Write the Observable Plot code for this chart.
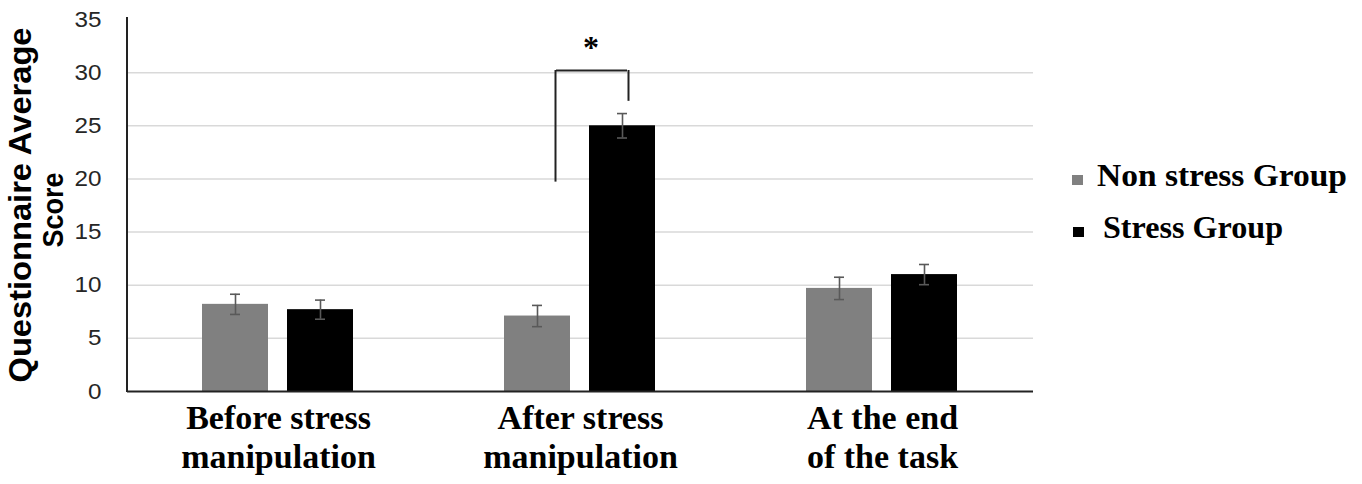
<!DOCTYPE html>
<html><head><meta charset="utf-8">
<script src="https://cdn.jsdelivr.net/npm/d3@7"></script>
<script src="https://cdn.jsdelivr.net/npm/@observablehq/plot@0.6"></script>
<style>
body{margin:0;background:#fff}
#chart{position:relative;width:1362px;height:484px}
</style>
</head><body><div id="chart"></div>
<script>
// ---- data ----
const categories = ["Before stress\nmanipulation", "After stress\nmanipulation", "At the end\nof the task"];
const groups = ["Non stress Group", "Stress Group"];
const nonStressMeans = [8.2, 7.1, 9.7];
const stressMeans = [7.7, 25.0, 11.0];
const nonStressErr = [0.95, 1.0, 1.05];
const stressErr = [0.9, 1.15, 0.95];
const groupColors = ["#808080", "#000000"];
const yTicks = [0, 5, 10, 15, 20, 25, 30, 35];
const yTitle = ["Questionnaire Average", "Score"];
// significance bracket (After stress manipulation)
const sigCategory = categories[1];
const sigLeftBottom = 19.7, sigRightBottom = 27.3, sigTop = 30.2, sigLabelY = 32.3, sigLabel = "*";

const data = [];
categories.forEach((c, i) => {
  data.push({cat: c, group: groups[0], value: nonStressMeans[i], err: nonStressErr[i]});
  data.push({cat: c, group: groups[1], value: stressMeans[i], err: stressErr[i]});
});
const sig = [{cat: sigCategory, from: groups[0], to: groups[1], yl: sigLeftBottom, yr: sigRightBottom, yt: sigTop, ly: sigLabelY, label: sigLabel}];

const errColor = "#595959";
const plot = Plot.plot({
  width: 1362, height: 484,
  marginLeft: 127, marginRight: 329, marginTop: 19, marginBottom: 93,
  style: {background: "#fff", overflow: "visible"},
  fx: {domain: categories, padding: 0, label: null},
  x: {domain: groups, paddingInner: 0.22, paddingOuter: 0.87, axis: null},
  y: {domain: [0, 35], label: null},
  color: {domain: groups, range: groupColors},
  marks: [
    Plot.gridY(yTicks.filter(t => t > 0 && t < 35), {stroke: "#d9d9d9", strokeOpacity: 1, strokeWidth: 1.5}),
    Plot.axisY(yTicks, {tickSize: 0, tickPadding: 26, fontSize: 22, fontFamily: "Liberation Sans, Arial, sans-serif", fill: "#262626", label: null}),
    Plot.axisFx({anchor: "bottom", tickSize: 0, tickPadding: 10, fontSize: 34, fontFamily: "Liberation Serif, Times New Roman, serif", fontWeight: "bold", lineHeight: 1.15, fill: "#000", label: null}),
    Plot.barY(data, {fx: "cat", x: "group", y: "value", fill: "group"}),
    Plot.ruleX(data, {fx: "cat", x: "group", y1: d => d.value - d.err, y2: d => d.value + d.err, stroke: errColor, strokeWidth: 1.6}),
    Plot.ruleY(data, {fx: "cat", x1: "group", x2: "group", y: d => d.value + d.err, insetLeft: 28, insetRight: 28, stroke: errColor, strokeWidth: 1.6}),
    Plot.ruleY(data, {fx: "cat", x1: "group", x2: "group", y: d => d.value - d.err, insetLeft: 28, insetRight: 28, stroke: errColor, strokeWidth: 1.6}),
    Plot.ruleY([0], {stroke: "#222", strokeWidth: 2}),
    // significance bracket
    Plot.ruleX(sig, {fx: "cat", x: "from", y1: "yl", y2: "yt", dx: 18, stroke: "#222", strokeWidth: 2}),
    Plot.ruleX(sig, {fx: "cat", x: "to", y1: "yr", y2: "yt", dx: 6, stroke: "#222", strokeWidth: 2}),
    Plot.ruleY(sig, {fx: "cat", x1: "from", x2: "to", y: "yt", insetLeft: 52, insetRight: 28, stroke: "#222", strokeWidth: 2}),
    Plot.text(sig, {fx: "cat", x: "to", y: "ly", text: "label", dx: -31.5, fontSize: 32, fontWeight: "bold", fontFamily: "Liberation Serif, serif", fill: "#000"})
  ]
});

const svg = d3.select(plot);
const y = plot.scale("y");
// widen y tick labels slightly (reference glyphs are horizontally stretched)
svg.selectAll('[aria-label="y-axis tick label"] text').each(function() {
  const t = this.textContent;
  d3.select(this).attr("textLength", t.length * 13.5).attr("lengthAdjust", "spacingAndGlyphs");
});
// left axis line
svg.append("line").attr("x1", 127).attr("x2", 127).attr("y1", y.apply(35) - 2).attr("y2", y.apply(0) + 1)
  .attr("stroke", "#222").attr("stroke-width", 2);
// y title (two lines, rotated)
svg.append("text").attr("transform", "translate(31,205) rotate(-90)").attr("text-anchor", "middle")
  .attr("font-family", "Liberation Sans, Arial, sans-serif").attr("font-weight", "bold").attr("font-size", 32)
  .attr("textLength", 355).attr("lengthAdjust", "spacingAndGlyphs").attr("fill", "#000").text(yTitle[0]);
svg.append("text").attr("transform", "translate(63,210) rotate(-90)").attr("text-anchor", "middle")
  .attr("font-family", "Liberation Sans, Arial, sans-serif").attr("font-weight", "bold").attr("font-size", 30)
  .attr("textLength", 75).attr("lengthAdjust", "spacingAndGlyphs").attr("fill", "#000").text(yTitle[1]);
// legend
const leg = [
  {sx: 1072, sy: 175, tx: 1097, ty: 186, len: 250},
  {sx: 1073, sy: 227, tx: 1103, ty: 238, len: 180}
];
groups.forEach((g, i) => {
  svg.append("rect").attr("x", leg[i].sx).attr("y", leg[i].sy).attr("width", 11).attr("height", 10).attr("fill", groupColors[i]);
  svg.append("text").attr("x", leg[i].tx).attr("y", leg[i].ty).attr("text-anchor", "start")
    .attr("font-family", "Liberation Serif, Times New Roman, serif").attr("font-weight", "bold").attr("font-size", 32)
    .attr("textLength", leg[i].len).attr("lengthAdjust", "spacingAndGlyphs").attr("fill", "#000").text(g);
});
document.getElementById("chart").appendChild(plot);
</script>
</body></html>
